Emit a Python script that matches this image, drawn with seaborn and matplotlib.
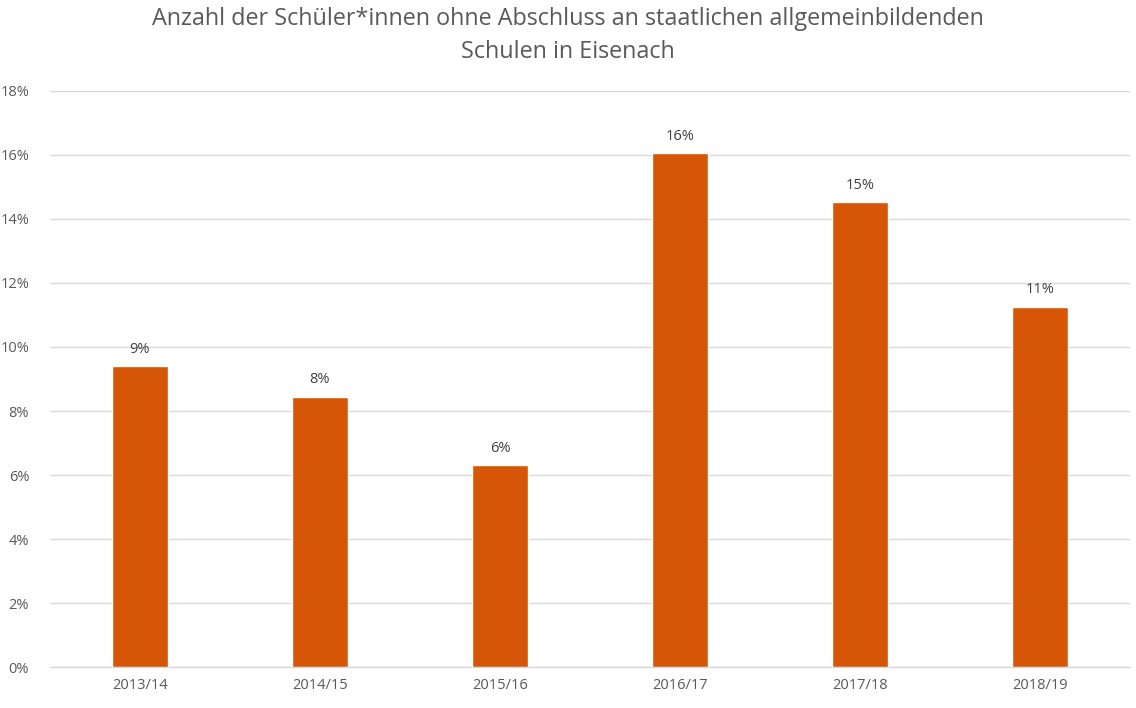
import pandas as pd
import seaborn as sns
import matplotlib.pyplot as plt

# Schuljahre und Anteil ohne Abschluss (in %)
schuljahre = ["2013/14", "2014/15", "2015/16", "2016/17", "2017/18", "2018/19"]
anteil = [9.4, 8.45, 6.3, 16.05, 14.52, 11.25]

df = pd.DataFrame({"jahr": schuljahre, "anteil": anteil})

sns.set_style("white")
plt.rcParams["font.family"] = ["Open Sans", "DejaVu Sans"]

fig = plt.figure(figsize=(11.36, 7.08), dpi=100)
ax = fig.add_axes([50 / 1136, 40.7 / 708, 1080 / 1136, 576.6 / 708])

sns.barplot(data=df, x="jahr", y="anteil", color="#D55607", width=0.31,
            saturation=1, ax=ax, zorder=3)

for i, v in enumerate(anteil):
    ax.text(i, v + 0.3, f"{int(v + 0.5)}%", ha="center", va="bottom",
            fontsize=10.5, color="#404040")

ax.set_ylim(0, 18)
ax.set_xlim(-0.5, len(schuljahre) - 0.5)
ax.set_yticks(range(0, 19, 2))
ax.set_yticklabels([f"{t}%" for t in range(0, 19, 2)])
ax.yaxis.grid(True, color="#d9d9d9", linewidth=1, zorder=0)
ax.axhline(0, color="#d9d9d9", linewidth=1, zorder=1, clip_on=False)
ax.set_axisbelow(True)
for s in ax.spines.values():
    s.set_visible(False)
ax.tick_params(axis="both", length=0, labelsize=10.5, colors="#595959", pad=8)
ax.tick_params(axis="y", pad=15)
ax.set_xlabel("")
ax.set_ylabel("")

fig.text(568 / 1136, 1 - 19 / 708,
         "Anzahl der Schüler*innen ohne Abschluss an staatlichen allgemeinbildenden",
         ha="center", va="center", fontsize=16.8, color="#595959")
fig.text(568 / 1136, 1 - 52 / 708, "Schulen in Eisenach",
         ha="center", va="center", fontsize=16.8, color="#595959")

fig.savefig("out.png", dpi=100)
